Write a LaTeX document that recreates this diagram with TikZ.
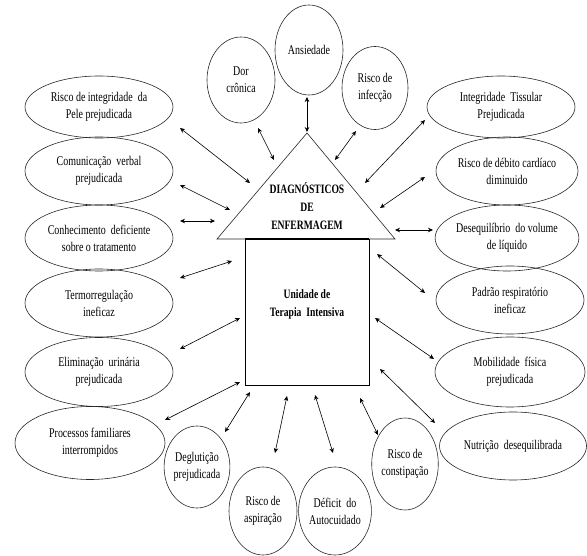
\documentclass[tikz,border=0pt]{standalone}
\usepackage{fontspec}
\setmainfont{Liberation Serif}[FakeStretch=0.75]
\usetikzlibrary{shapes.geometric,arrows.meta}
\begin{document}
\begin{tikzpicture}[x=1pt,y=-1pt,
  ell/.style={draw=black!85,line width=0.6pt,ellipse,inner sep=0pt,align=center,
    font=\fontsize{13.3}{17}\selectfont},
  bld/.style={align=center,inner sep=0pt,font=\fontsize{12.8}{18}\selectfont\bfseries},
  arr/.style={line width=0.6pt,{Stealth[length=5pt,width=4.5pt]}-{Stealth[length=5pt,width=4.5pt]}}]
\useasboundingbox (0,0) rectangle (587,556);
% left ellipses
\node[ell,minimum width=148pt,minimum height=62pt] (l1) at (99,107) {Risco de integridade\ \ da\\Pele prejudicada};
\node[ell,minimum width=148pt,minimum height=68pt] (l2) at (99,171) {Comunicação\ \ verbal\\prejudicada};
\node[ell,minimum width=148pt,minimum height=66pt] (l3) at (99,238) {Conhecimento\ \ deficiente\\sobre o tratamento};
\node[ell,minimum width=148pt,minimum height=68pt] (l4) at (99,303) {Termorregulação\\ineficaz};
\node[ell,minimum width=148pt,minimum height=69pt] (l5) at (99,372) {Eliminação\ \ urinária\\prejudicada};
\node[ell,minimum width=150pt,minimum height=73pt] (l6) at (90,443) {Processos familiares\\interrompidos};
% top circles
\node[ell,minimum width=68pt,minimum height=86pt] (t1) at (241,80) {Dor\\crônica};
\node[ell,minimum width=68pt,minimum height=90pt] (t2) at (309,50) {Ansiedade};
\node[ell,minimum width=66pt,minimum height=83pt] (t3) at (375,88) {Risco de\\infecção};
% right ellipses
\node[ell,minimum width=148pt,minimum height=62pt] (r1) at (501,107) {Integridade\ \ Tissular\\Prejudicada};
\node[ell,minimum width=142pt,minimum height=68pt] (r2) at (507,171) {Risco de débito cardíaco\\diminuido};
\node[ell,minimum width=142pt,minimum height=66pt] (r3) at (507,238) {Desequilíbrio\ \ do volume\\de líquido};
\node[ell,minimum width=148pt,minimum height=68pt] (r4) at (510,300) {Padrão respiratório\\ineficaz};
\node[ell,minimum width=150pt,minimum height=70pt] (r5) at (510,372) {Mobilidade\ \ física\\prejudicada};
\node[ell,minimum width=147pt,minimum height=68pt] (r6) at (513,446) {Nutrição\ \ desequilibrada};
% bottom circles
\node[ell,minimum width=65pt,minimum height=82pt] (b1) at (197,467) {Deglutição\\prejudicada};
\node[ell,minimum width=68pt,minimum height=88pt] (b2) at (263,511) {Risco de\\aspiração};
\node[ell,minimum width=66pt,minimum height=88pt] (b3) at (335,511) {Déficit\ \ do\\Autocuidado};
\node[ell,minimum width=62pt,minimum height=92pt] (b4) at (405,464) {Risco de\\constipação};
% centre
\coordinate (apex) at (307,133);
\coordinate (bl) at (217,239);
\coordinate (br) at (395,239);
\draw[line width=0.6pt,draw=black!85] (bl) -- (apex) -- (br) -- cycle;
\node[draw=black,line width=0.7pt,minimum width=124pt,minimum height=146pt,inner sep=0pt] (uti) at (307,312) {};
\draw[line width=1.4pt] (uti.north west) -- (uti.north east);
\node[bld] (dx) at (307,206) {DIAGNÓSTICOS\\DE\\ENFERMAGEM};
\node[bld] (un) at (307,304) {Unidade de\\Terapia\ \ Intensiva};
% arrow ends
\coordinate (a1s) at (180,128); \coordinate (a1e) at (250,183);
\coordinate (a2s) at (180,185); \coordinate (a2e) at (230,210);
\coordinate (a3s) at (180,221); \coordinate (a3e) at (215,221);
\coordinate (a4s) at (180,278); \coordinate (a4e) at (232,261);
\coordinate (a5s) at (180,349); \coordinate (a5e) at (240,318);
\coordinate (a6s) at (165,420); \coordinate (a6e) at (240,382);
\coordinate (a7s) at (225,432); \coordinate (a7e) at (250,392);
\coordinate (a8s) at (275,453); \coordinate (a8e) at (287,396);
\coordinate (a9s) at (315,395); \coordinate (a9e) at (333,453);
\coordinate (a10s) at (360,398); \coordinate (a10e) at (378,435);
\coordinate (a11s) at (380,369); \coordinate (a11e) at (435,423);
\coordinate (a12s) at (375,318); \coordinate (a12e) at (434,359);
\coordinate (a13s) at (377,254); \coordinate (a13e) at (425,293);
\coordinate (a14s) at (395,230); \coordinate (a14e) at (433,230);
\coordinate (a15s) at (380,208); \coordinate (a15e) at (425,177);
\coordinate (a16s) at (365,183); \coordinate (a16e) at (425,120);
\coordinate (a17s) at (335,160); \coordinate (a17e) at (356,131);
\coordinate (a18s) at (307,97); \coordinate (a18e) at (307,132);
\coordinate (a19s) at (258,128); \coordinate (a19e) at (274,160);
\foreach \i in {1,...,19} {\draw[arr] (a\i s) -- (a\i e);}
\end{tikzpicture}
\end{document}
